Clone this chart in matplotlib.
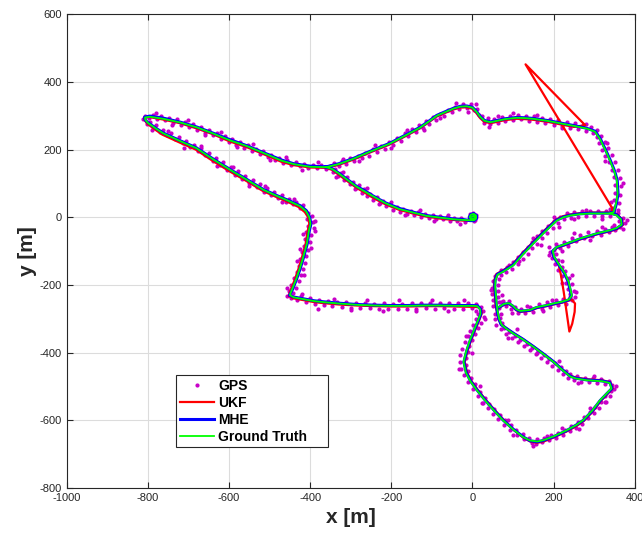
import numpy as np
import matplotlib
matplotlib.use("Agg")
import matplotlib.pyplot as plt
from matplotlib.patches import Rectangle

# ---------------- data ----------------
gt_main = [(-1,1),(3,4),(6,0),(3,-5),(-3,-5),(-7,0),(-4,7),(3,10),(9,5),(9,-4),(4,-9),(-6,-9),
 (-22,-8),(-47,-6),(-80,-1),(-113,4),(-146,14),(-180,24),(-215,42),(-245,62),(-265,76),(-285,90),(-310,112),(-330,130),(-345,142),(-360,148),
 (-400,149),(-440,157),(-470,167),(-515,190),(-555,210),(-597,227),(-640,248),(-680,266),(-720,280),(-762,291),(-795,297),(-807,295),(-806,288),
 (-800,279),(-780,262),(-762,248),(-720,225),(-680,204),(-640,172),(-597,140),(-555,110),(-515,81),(-480,62),(-458,51),(-425,33),(-410,18),
 (-402,0),(-399,-20),(-403,-40),(-408,-78),(-417,-118),(-425,-150),(-435,-185),(-445,-215),(-450,-230),
 (-440,-237),(-417,-242),(-390,-248),(-367,-251),(-330,-255),(-285,-259),(-240,-261),(-203,-262),(-160,-262),(-121,-261),(-80,-261),(-39,-262),(0,-262),(12,-263),
 (19,-272),(20,-285),(14,-304),(5,-330),(-6,-363),(-15,-395),(-22,-428),(-16,-460),(-5,-485),(10,-510),(30,-540),(52,-570),(75,-600),(101,-628),(125,-650),(142,-660),
 (160,-663),(175,-659),(200,-648),(232,-630),(255,-615),(273,-600),(295,-572),(314,-542),(330,-522),(343,-506),(338,-490),(320,-485),(282,-482),(255,-477),(241,-471),
 (220,-450),(200,-428),(175,-405),(150,-383),(125,-362),(101,-344),(84,-330),(72,-318),(66,-300),(63,-284),(60,-260),
 (58,-230),(56,-205),(57,-186),(62,-170),(76,-161),(101,-142),(126,-108),(158,-68),(183,-38),(208,-10),(225,0),(241,5),(265,9),(290,11),(315,11),(339,11),
 (355,6),(366,-6),(368,-22),(355,-32),(340,-38),(306,-48),(265,-63),(232,-78),(208,-88),(198,-100),
 (202,-118),(212,-137),(228,-166),(237,-190),(241,-210),(245,-232),(238,-243),
 (220,-250),(200,-255),(183,-260),(158,-266),(142,-274),(118,-277),(108,-272),(100,-262),(90,-254),(78,-256),(66,-265)]

gt_top = [(-360,148),(-330,157),(-293,173),(-250,195),(-203,218),(-160,245),(-129,265),(-105,285),(-88,300),(-65,312),(-47,321),(-30,327),(-14,328),(0,324),(10,312),(20,296),(30,285),(45,281),(60,285),(80,290),(109,294),(130,293),(150,291),(185,285),(216,278),(250,270),(282,262),(302,253),(315,230),(327,200),(339,168),(350,135),(356,109),(358,70),(354,40),(348,15),(339,11)]

ukf_main = [(0,2),(4,4),(7,-1),(2,-6),(-4,-5),(-8,1),(-3,8),(4,11),(10,4),(9,-5),(3,-10),(-7,-10),
 (-23,-10),(-48,-8),(-81,-4),(-114,2),(-147,11),(-181,22),(-216,39),(-246,58),(-266,73),(-286,87),(-311,109),(-331,127),(-346,140),(-361,146),
 (-401,147),(-441,154),(-471,164),(-516,187),(-556,207),(-598,224),(-641,246),(-681,263),(-721,278),(-763,289),(-796,296),(-809,295),(-808,287),
 (-802,277),(-782,259),(-764,244),(-722,221),(-682,200),(-642,168),(-599,136),(-557,107),(-517,78),(-482,59),(-460,48),(-428,30),(-413,15),
 (-405,0),(-402,-20),(-406,-40),(-411,-78),(-420,-118),(-428,-150),(-438,-185),(-448,-215),(-453,-233),
 (-441,-240),(-417,-245),(-390,-251),(-367,-254),(-330,-258),(-285,-261),(-240,-263),(-203,-264),(-160,-264),(-121,-263),(-80,-263),(-39,-264),(0,-265),(14,-266),
 (22,-273),(23,-285),(17,-304),(8,-330),(-3,-363),(-12,-395),(-19,-428),(-13,-460),(-2,-485),(13,-510),(33,-540),(55,-570),(78,-600),(103,-630),(127,-653),(144,-664),
 (160,-667),(176,-663),(201,-651),(233,-633),(256,-618),(275,-602),(297,-574),(316,-544),(332,-524),(346,-506),(340,-488),(320,-482),(282,-479),(255,-474),(240,-468),
 (218,-447),(198,-425),(173,-402),(148,-380),(123,-359),(99,-341),(82,-327),(70,-315),(64,-300),(61,-284),(57,-260),
 (55,-230),(53,-205),(54,-186),(59,-168),(74,-158),(99,-139),(124,-105),(156,-65),(181,-35),(206,-7),(223,3),(240,8),(265,12),(290,14),(315,14),(341,14),
 (357,8),(369,-6),(371,-23),(357,-35),(341,-41),(306,-51),(265,-66),(232,-81),(208,-91),(197,-102),
 (201,-118),(212,-137),(218,-170),(225,-220),(232,-280),(239,-338),(246,-315),(252,-280),(253,-255),(245,-244),
 (220,-253),(200,-258),(183,-263),(158,-269),(142,-277),(118,-280),(108,-275),(100,-265),(90,-257),(78,-259),(66,-268)]

ukf_top = [(-361,146),(-331,154),(-294,170),(-251,192),(-204,215),(-161,242),(-130,262),(-106,282),(-89,297),(-66,309),(-48,318),(-31,324),(-15,325),(-1,321),(9,309),(19,293),(29,282),(45,278),(60,282),(80,287),(109,291),(130,290),(150,288),(185,282),(216,275),(250,267),(278,272),(131,452),(345,26),(343,12),(339,11)]

mhe_main = [(-1,2),(3,5),(7,0),(3,-6),(-3,-6),(-8,0),(-4,8),(3,11),(10,5),(10,-4),(4,-10),(-6,-10),
 (-22,-7),(-47,-5),(-80,0),(-113,5),(-146,15),(-180,26),(-215,43),(-245,63),(-265,78),(-285,91),(-310,113),(-330,131),(-345,143),(-360,149),
 (-400,151),(-440,158),(-470,169),(-515,191),(-555,211),(-597,229),(-640,249),(-680,267),(-720,281),(-762,293),(-795,299),(-808,296),(-807,288),
 (-800,280),(-780,263),(-762,249),(-720,226),(-680,205),(-640,173),(-597,141),(-555,111),(-515,82),(-480,63),(-458,52),(-424,34),(-409,19),
 (-401,0),(-398,-20),(-402,-40),(-407,-78),(-416,-118),(-424,-150),(-434,-185),(-444,-215),(-451,-231),
 (-440,-236),(-417,-241),(-390,-247),(-367,-250),(-330,-254),(-285,-258),(-240,-260),(-203,-261),(-160,-261),(-121,-260),(-80,-260),(-39,-261),(0,-261),(13,-262),
 (20,-272),(21,-285),(15,-304),(6,-330),(-5,-363),(-14,-395),(-21,-428),(-15,-460),(-4,-485),(11,-510),(31,-540),(53,-570),(76,-600),(102,-628),(126,-650),(142,-661),
 (160,-664),(175,-660),(200,-649),(232,-631),(255,-615),(274,-600),(296,-572),(315,-542),(331,-522),(344,-506),(339,-489),(320,-484),(282,-481),(255,-476),(241,-470),
 (220,-449),(200,-427),(175,-404),(150,-382),(125,-361),(101,-343),(84,-329),(71,-318),(65,-300),(62,-284),(59,-260),
 (57,-230),(55,-205),(56,-186),(61,-169),(75,-160),(100,-141),(125,-107),(157,-67),(182,-37),(207,-9),(225,1),(241,6),(265,10),(290,12),(315,12),(340,12),
 (356,7),(367,-6),(369,-22),(356,-33),(340,-39),(306,-49),(265,-64),(232,-79),(208,-89),(197,-101),
 (201,-118),(211,-137),(227,-166),(236,-190),(240,-210),(244,-232),(238,-244),
 (220,-251),(200,-256),(183,-261),(158,-267),(142,-275),(118,-278),(108,-273),(100,-263),(90,-255),(78,-257),(66,-266)]

mhe_top = [(-360,149),(-330,158),(-293,174),(-250,196),(-203,219),(-160,246),(-129,266),(-105,286),(-88,301),(-65,313),(-47,322),(-30,328),(-14,329),(0,325),(10,313),(20,297),(30,286),(45,282),(60,286),(80,291),(109,295),(130,294),(150,292),(185,286),(216,279),(250,271),(282,263),(303,254),(316,230),(328,200),(340,168),(351,135),(357,109),(359,70),(355,40),(349,15),(340,12)]

gps_west = [(-2,4),(5,-3),(8,6),(-6,9),(-9,-4),(3,-10),(10,2),(1,12),(-4,-2),(6,-8),
 (-18,-13),(-28,-2),(-37,-12),(-45,-1),(-55,-10),(-63,0),(-72,-6),(-80,3),(-90,-5),(-98,6),(-108,-2),(-117,9),(-126,1),(-134,14),(-143,8),(-152,19),(-160,11),(-170,25),(-178,16),(-187,30),(-195,22),(-204,40),(-212,33),(-220,49),(-228,41),(-236,59),(-244,52),(-252,70),(-259,63),(-266,82),(-273,73),(-280,94),(-288,85),(-294,103),(-302,99),(-308,118),(-316,110),(-323,131),(-331,123),(-338,143),(-344,134),(-352,152),
 (-362,144),(-372,154),(-383,145),(-394,155),(-405,146),(-415,156),(-426,150),(-436,162),(-447,155),(-457,168),(-466,160),(-476,175),(-486,170),(-496,185),(-505,178),(-515,195),(-524,186),(-534,203),(-543,196),(-553,214),(-562,205),(-572,221),(-582,213),(-592,232),(-601,222),(-611,240),(-620,232),(-630,250),(-640,242),(-650,259),(-659,250),(-669,267),(-679,259),(-689,275),(-698,266),(-708,282),(-718,274),(-728,289),(-738,280),(-748,294),(-758,286),(-768,299),(-777,290),(-787,302),(-797,293),(-806,300),(-812,291),
 (-803,276),(-795,283),(-788,266),(-780,272),(-771,253),(-762,258),(-752,243),(-743,249),(-733,231),(-724,236),(-714,218),(-705,226),(-695,208),(-686,215),(-676,196),(-668,205),(-658,183),(-650,191),(-640,166),(-632,176),(-622,153),(-614,162),(-604,139),(-596,149),(-586,126),(-578,136),(-568,113),(-560,123),(-550,101),(-542,110),(-532,88),(-524,98),(-514,76),(-506,86),(-496,67),(-488,75),(-478,57),(-470,66),(-460,46),(-452,55),(-442,38),(-434,46),(-425,27),(-418,37),
 (-404,12),(-396,3),(-408,-6),(-394,-15),(-405,-26),(-391,-33),(-410,-45),(-397,-54),(-412,-65),(-400,-74),(-416,-86),(-405,-96),(-420,-104),(-409,-114),(-424,-124),(-413,-134),(-428,-143),(-418,-153),(-433,-162),(-423,-172),(-439,-181),(-428,-190),(-446,-199),(-436,-208),(-452,-217),(-443,-225),(-456,-233),(-447,-240),
 (-432,-244),(-422,-233),(-411,-250),(-400,-240),(-389,-256),(-378,-244),(-367,-259),(-356,-247),(-345,-262),(-334,-250),(-322,-265),(-311,-252),(-299,-267),(-288,-254),(-276,-268),(-265,-255),(-253,-269),(-242,-256),(-230,-270),(-219,-255),(-207,-270),(-196,-256),(-184,-271),(-173,-256),(-161,-270),(-150,-255),(-138,-270),(-127,-254),(-115,-269),(-104,-255),(-92,-270),(-81,-254),(-69,-269),(-58,-255),(-46,-270),(-35,-254),(-23,-270),(-12,-255),(0,-269),(10,-256),(20,-266)]

gps_south = [(26,-276),(14,-286),(28,-294),(10,-300),(20,-312),(2,-318),(14,-328),(-5,-336),(6,-345),(-12,-352),(-1,-362),(-18,-370),(-8,-380),(-25,-389),(-12,-398),(-30,-408),(-17,-417),(-30,-428),(-16,-437),(-27,-448),(-12,-456),(-20,-467),(-4,-474),(-10,-487),(6,-494),(2,-508),(18,-516),(14,-530),(30,-534),(26,-548),(42,-552),(38,-565),(54,-567),(50,-582),(67,-584),(64,-598),(80,-599),(78,-614),(94,-614),(93,-629),(108,-628),(110,-643),(124,-642),(127,-657),(140,-654),(146,-668),
 (156,-670),(160,-656),(172,-666),(177,-652),(190,-660),(194,-645),(207,-653),(211,-638),(224,-643),(228,-628),(241,-632),(244,-617),(256,-622),(260,-606),(270,-610),(275,-592),(284,-594),(290,-577),(300,-580),(303,-561),(313,-563),(316,-545),(326,-546),(328,-528),(339,-528),(342,-513),(350,-509),(344,-497),(336,-484),(326,-492),(318,-478),(308,-489),(298,-475),(288,-488),(278,-474),(268,-486),(258,-470),(250,-482),(240,-464),
 (236,-476),(230,-455),(224,-463),(218,-442),(211,-451),(204,-431),(197,-439),(190,-419),(183,-428),(177,-408),(170,-416),(162,-396),(156,-404),(148,-386),(141,-392),(134,-374),(127,-381),(118,-363),(112,-370),(104,-352),(97,-357),(90,-340),(84,-346),(78,-327),(70,-331),(72,-313),(59,-318),(68,-298),(56,-302),(70,-285),(55,-286),(66,-268)]

gps_east = [(52,-262),(66,-252),(50,-244),(63,-236),(48,-226),(62,-218),(49,-208),(64,-200),(50,-190),(66,-184),(56,-174),(70,-170),(70,-156),(84,-162),(86,-146),(98,-152),(100,-132),(112,-138),(112,-118),(124,-124),(124,-102),(136,-108),(136,-88),(148,-92),(148,-72),(160,-78),(160,-56),(172,-62),(172,-42),(184,-47),(186,-27),(198,-32),(200,-12),(211,-17),(216,2),(226,-6),(232,12),(242,-2),(250,15),(260,2),(270,17),(280,4),(290,18),(300,4),(310,18),(320,4),(330,17),(340,3),(348,16),
 (360,12),(372,-2),(362,-10),(376,-18),(364,-28),(370,-36),(352,-38),(344,-28),(336,-45),(326,-35),(316,-52),(306,-40),(296,-56),(286,-45),(276,-62),(266,-52),(256,-70),(246,-60),(236,-84),(226,-72),(216,-92),(206,-80),(200,-96),(192,-104),
 (206,-110),(196,-120),(212,-126),(204,-138),(220,-146),(212,-156),(228,-160),(222,-175),(238,-180),(230,-193),(246,-198),(236,-212),(250,-218),(240,-228),(254,-235),(246,-246),
 (230,-256),(224,-242),(212,-260),(205,-246),(192,-265),(185,-252),(172,-270),(163,-258),(150,-280),(142,-266),(130,-284),(120,-270),(112,-282),(104,-266),(96,-272),(90,-247),(82,-262),(76,-249)]

gps_top = [(-340,160),(-330,150),(-321,166),(-311,156),(-302,174),(-292,165),(-283,182),(-273,174),(-264,191),(-254,182),(-244,201),(-235,192),(-225,211),(-215,203),(-206,223),(-196,214),(-186,234),(-176,226),(-166,249),(-158,240),(-148,260),(-140,251),(-132,273),(-123,264),(-115,284),(-106,276),(-98,296),(-89,288),(-80,306),(-70,299),(-60,316),(-51,310),(-42,327),(-33,320),(-24,334),(-14,324),(-4,334),(4,318),(12,320),(16,303),(24,298),(28,280),(38,292),(44,276),(54,290),(62,278),(72,296),(80,284),(92,300),(100,288),(112,303),(120,289),(132,300),(140,285),(152,298),(160,283),(172,294),(180,278),(192,290),(200,274),(212,286),(220,270),(232,282),(240,265),(252,278),(260,262),(272,274),(280,256),(292,268),(298,248),(308,258),(306,236),(318,240),(312,218),(326,222),(320,200),(334,204),(328,180),(344,184),(336,162),(352,162),(344,140),(360,140),(350,118),(364,116),(352,96),(366,92),(352,72),(365,66),(350,50),(362,42),(346,28),(358,20)]

gps_outer = [(-30,-20),(-60,7),(-95,-10),(-130,21),(-165,6),(-200,46),(-230,40),(-260,86),(-290,82),(-320,134),(-335,120),
 (-380,162),(-420,140),(-460,177),(-500,170),(-540,216),(-580,208),(-620,252),(-660,244),(-700,287),(-740,273),(-780,307),
 (-790,257),(-750,255),(-710,206),(-670,210),(-630,152),(-590,148),(-550,93),(-510,92),(-470,44),(-440,55),
 (-387,-10),(-417,-50),(-398,-90),(-433,-130),(-416,-170),(-456,-210),(-389,-40),(-425,-95),
 (-420,-228),(-380,-272),(-340,-242),(-300,-274),(-260,-244),(-220,-276),(-180,-246),(-140,-276),(-100,-246),(-60,-276),(-20,-246),(8,-276),
 (30,-300),(-15,-350),(-1,-400),(-32,-450),(18,-500),(24,-550),(88,-600),(100,-645),
 (150,-676),(185,-648),(220,-624),(262,-627),(290,-565),(330,-545),(355,-500),(300,-470),(260,-490),
 (214,-424),(160,-400),(110,-330),(88,-358),
 (45,-215),(72,-230),(90,-140),(115,-130),(150,-60),(170,-82),(200,0),(214,-28),(250,-4),(280,22),(320,-5),(340,25),
 (380,-8),(350,-22),(320,-30),(290,-66),(250,-46),(220,-100),(190,-88),
 (190,-112),(222,-130),(246,-170),(220,-195),(256,-222),
 (240,-236),(195,-245),(175,-278),(135,-262),(98,-284),(70,-250),
 (-320,173),(-280,166),(-240,214),(-200,206),(-160,259),(-120,258),(-80,292),(-40,337),(8,336),(40,268),(100,307),(160,302),(220,263),(280,276),(333,220),(326,165),(370,100),(342,45),(-10,312),(62,300)]

x_ticks = [-1000, -800, -600, -400, -200, 0, 200, 400]
y_ticks = [-800, -600, -400, -200, 0, 200, 400, 600]


def join(*segs):
    xs, ys = [], []
    for i, s in enumerate(segs):
        if i:
            xs.append(np.nan); ys.append(np.nan)
        xs += [p[0] for p in s]
        ys += [p[1] for p in s]
    return np.array(xs, float), np.array(ys, float)


gx, gy = join(gt_main, gt_top)
ux, uy = join(ukf_main, ukf_top)
mx, my = join(mhe_main, mhe_top)
gps = gps_west + gps_south + gps_east + gps_top + gps_outer
px = [p[0] for p in gps]
py = [p[1] for p in gps]

plt.rcParams['font.family'] = ['Liberation Sans', 'DejaVu Sans']
plt.rcParams['axes.unicode_minus'] = False

fig = plt.figure(figsize=(6.42, 5.35), dpi=100)
ax = fig.add_axes([0.1039, 0.0882, 0.8847, 0.8851])

ax.plot(px, py, linestyle='none', marker='.', markersize=4, color='#c800c8', label='GPS')
ax.plot(ux, uy, color='#ff0000', lw=1.6, label='UKF')
ax.plot(mx, my, color='#0000ff', lw=2.2, label='MHE')
ax.plot(gx, gy, color='#00ff00', lw=1.3, label='Ground Truth')

ax.set_xlim(-1000, 400)
ax.set_ylim(-800, 600)
ax.set_xticks(x_ticks)
ax.set_yticks(y_ticks)
ax.grid(True, color='#dcdcdc', linewidth=0.8)
ax.set_axisbelow(True)
ax.tick_params(direction='in', top=True, right=True, labelsize=8, colors='#262626', length=4)
for s in ax.spines.values():
    s.set_color('#262626')
    s.set_linewidth(0.8)

ax.set_xlabel('x [m]', fontsize=15, fontweight='bold', color='#262626', labelpad=4)
ax.set_ylabel('y [m]', fontsize=15, fontweight='bold', color='#262626', labelpad=2)

# legend box (MATLAB-style, wider than its text)
box = Rectangle((0.1924, 0.0862), 0.2676, 0.152, transform=ax.transAxes,
                facecolor='white', edgecolor='#262626', linewidth=0.8, zorder=4.9)
ax.add_patch(box)
leg = ax.legend(loc='upper left', bbox_to_anchor=(0.1924, 0.2382), borderaxespad=0,
                prop={'weight': 'bold', 'size': 10}, frameon=False,
                handlelength=2.45, handletextpad=0.3, labelspacing=0.22, borderpad=0.3,
                markerscale=1.0)
leg.set_zorder(5)

fig.savefig('out.png', dpi=100)
